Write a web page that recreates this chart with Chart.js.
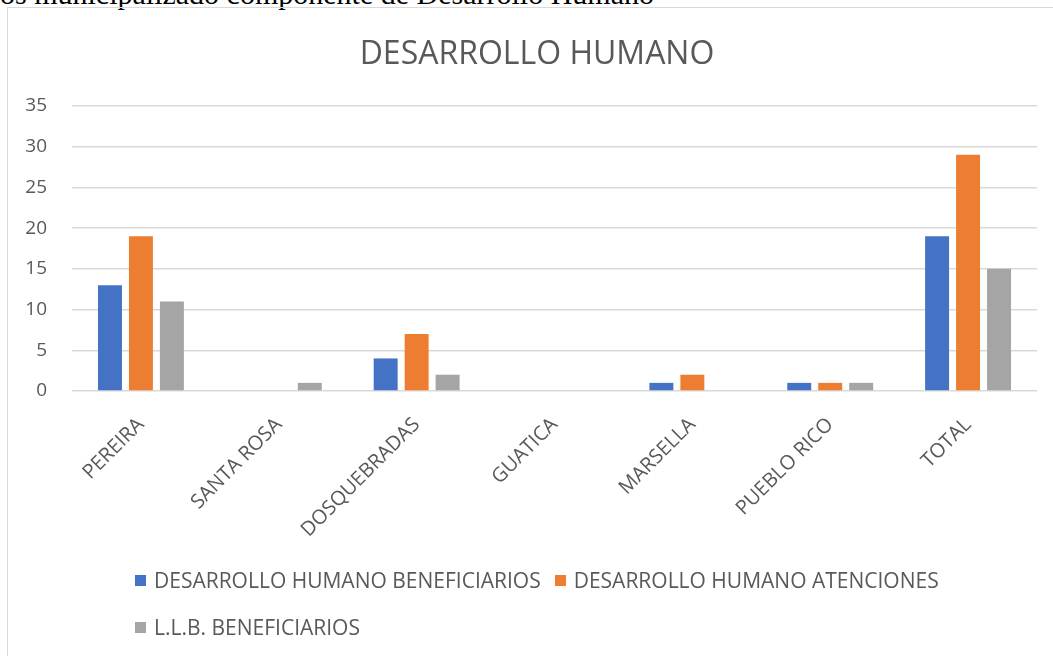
<!DOCTYPE html>
<html>
<head>
<meta charset="utf-8">
<script src="https://cdn.jsdelivr.net/npm/chart.js@4/dist/chart.umd.min.js"></script>
<style>
  body { margin: 0; background: #fff; width: 1053px; height: 656px; overflow: hidden; position: relative; }
  #caption { position: absolute; left: 0; top: -21px; font-family: "Liberation Serif", serif; font-size: 30px; line-height: 1; color: #000; white-space: nowrap; }
  #frame { position: absolute; left: 7px; top: 7px; width: 1046px; height: 649px; border-left: 1.5px solid #d9d9d9; border-top: 1.5px solid #d9d9d9; box-sizing: border-box; }
  #wrap { position: absolute; left: 8px; top: 8px; width: 1045px; height: 648px; }
  #titulo { position: absolute; left: 337px; width: 400px; top: 32px; text-align: center; font-family: "Open Sans", sans-serif; font-size: 32px; line-height: 40px; color: #595959; }
  #legend { position: absolute; left: 135px; top: 567px; width: 830px; display: flex; flex-wrap: wrap; row-gap: 21px;
            font-family: "Open Sans", sans-serif; font-size: 21px; line-height: 26px; color: #595959; }
  #legend .item { display: flex; align-items: center; margin-right: 14px; white-space: nowrap; }
  #legend .box { width: 11px; height: 11px; margin-right: 8px; }
</style>
</head>
<body>
<div id="caption">os municipalizado componente de Desarrollo Humano</div>
<div id="frame"></div>
<div id="wrap"><canvas id="chart"></canvas></div>
<div id="titulo">DESARROLLO HUMANO</div>
<div id="legend"></div>

<script>
// ===== Datos =====
const municipios = ['PEREIRA', 'SANTA ROSA', 'DOSQUEBRADAS', 'GUATICA', 'MARSELLA', 'PUEBLO RICO', 'TOTAL'];
const dhBeneficiarios = [13, 0, 4, 0, 1, 1, 19];
const dhAtenciones = [19, 0, 7, 0, 2, 1, 29];
const llbBeneficiarios = [11, 1, 2, 0, 0, 1, 15];
const yTicks = [0, 5, 10, 15, 20, 25, 30, 35];

const gris = '#595959';
const fuente = 'Open Sans';

const chart = new Chart(document.getElementById('chart'), {
  type: 'bar',
  data: {
    labels: municipios,
    datasets: [
      { label: 'DESARROLLO HUMANO BENEFICIARIOS', data: dhBeneficiarios, backgroundColor: '#4472C4' },
      { label: 'DESARROLLO HUMANO ATENCIONES', data: dhAtenciones, backgroundColor: '#ED7D31' },
      { label: 'L.L.B. BENEFICIARIOS', data: llbBeneficiarios, backgroundColor: '#A5A5A5' }
    ]
  },
  options: {
    responsive: true,
    maintainAspectRatio: false,
    animation: false,
    categoryPercentage: 0.674,
    barPercentage: 0.774,
    layout: { padding: { left: 0, right: 16, top: 98, bottom: 0 } },
    plugins: {
      legend: { display: false },
      tooltip: { enabled: false },
      title: { display: false }
    },
    scales: {
      x: {
        grid: { display: false },
        border: { display: false },
        ticks: {
          color: gris,
          font: { family: fuente, size: 20 },
          minRotation: 45,
          maxRotation: 45,
          autoSkip: false,
          padding: 14
        },
        afterFit: s => { s.height = 265; }
      },
      y: {
        min: 0,
        max: 35,
        grid: { color: '#d9d9d9', lineWidth: 1.5, drawTicks: false },
        border: { display: false },
        afterBuildTicks: s => { s.ticks = yTicks.map(v => ({ value: v })); },
        ticks: { color: gris, font: { family: fuente, size: 19 }, padding: 25 },
        afterFit: s => { s.width = 64; }
      }
    }
  }
});

// ===== Leyenda =====
const leyenda = document.getElementById('legend');
chart.data.datasets.forEach(ds => {
  const item = document.createElement('div');
  item.className = 'item';
  item.innerHTML = `<span class="box" style="background:${ds.backgroundColor}"></span><span>${ds.label}</span>`;
  leyenda.appendChild(item);
});
</script>
</body>
</html>
